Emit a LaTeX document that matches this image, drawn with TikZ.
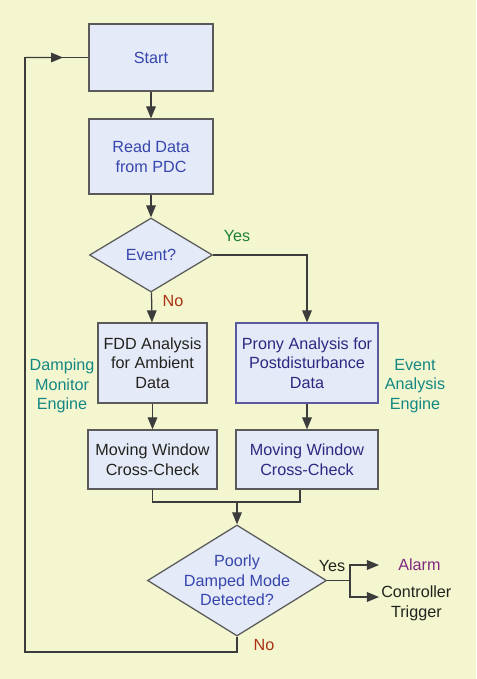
\documentclass[tikz,border=0pt]{standalone}
\usepackage{fontspec}
\setmainfont{Liberation Sans}
\usetikzlibrary{shapes.geometric, arrows.meta, positioning, calc}
\definecolor{mybg}{RGB}{243,246,207}
\definecolor{myfill}{RGB}{228,234,247}
\definecolor{myframe}{RGB}{90,90,90}
\definecolor{myline}{RGB}{60,60,60}
\definecolor{myblue}{RGB}{55,70,175}
\definecolor{mynavy}{RGB}{45,40,130}
\definecolor{mypframe}{RGB}{90,90,160}
\definecolor{myteal}{RGB}{20,135,130}
\definecolor{mygreen}{RGB}{30,130,50}
\definecolor{myred}{RGB}{170,50,20}
\definecolor{mypurple}{RGB}{130,40,130}
\definecolor{mydark}{RGB}{35,35,30}
\newcommand\myfont{\fontsize{11.5}{14}\selectfont}
\tikzset{
  block/.style={rectangle, draw=myframe, fill=myfill, align=center,
    line width=0.9pt, font=\myfont, inner sep=0pt},
  decision/.style={diamond, draw=myframe, fill=myfill,
    line width=0.9pt, inner sep=0pt},
  lbl/.style={align=center, font=\myfont, inner sep=0pt},
  arrow/.style={-{Triangle[length=3mm, width=2.4mm]}, line width=0.9pt, color=myline},
  line/.style={line width=0.9pt, color=myline}
}

\begin{document}
\begin{tikzpicture}[x=0.025cm, y=-0.025cm]
  % Background
  \fill[mybg] (0,0) rectangle (476,679);
  \useasboundingbox (0,0) rectangle (476,679);

  % Nodes
  \node[block, text=myblue, minimum width=3.1cm, minimum height=1.675cm] (start) at (151,57.5) {Start};
  \node[block, text=myblue, minimum width=3.1cm, minimum height=1.875cm] (read) at (151,156.5) {Read Data\\from PDC};
  \node[decision, minimum width=3.075cm, minimum height=1.85cm,
    label={[lbl, text=myblue]center:Event?}] (event) at (151,255) {};
  \node[block, text=mydark, minimum width=2.725cm, minimum height=2cm] (fdd) at (152.5,363) {FDD Analysis\\for Ambient\\Data};
  \node[block, draw=mypframe, text=mynavy, minimum width=3.55cm, minimum height=2cm] (prony) at (307,363) {Prony Analysis for\\Postdisturbance\\Data};
  \node[block, text=mydark, minimum width=3.225cm, minimum height=1.475cm] (mwl) at (152.5,459.5) {Moving Window\\Cross-Check};
  \node[block, text=mynavy, minimum width=3.55cm, minimum height=1.475cm] (mwr) at (307,459.5) {Moving Window\\Cross-Check};
  \node[decision, minimum width=4.475cm, minimum height=2.775cm,
    label={[lbl, text=myblue]center:Poorly\\Damped Mode\\Detected?}] (poor) at (237,580.5) {};

  % Labels
  \node[lbl, text=myteal] (dme) at (62,386) {Damping\\Monitor\\Engine};
  \node[lbl, text=myteal] (eae) at (415,386) {Event\\Analysis\\Engine};
  \node[lbl, text=mygreen] (yes1) at (237,236) {Yes};
  \node[lbl, text=myred] (no1) at (173,301) {No};
  \node[lbl, text=mydark] (yes2) at (332,566) {Yes};
  \node[lbl, text=myred] (no2) at (264,645) {No};
  \node[lbl, text=mypurple, anchor=west] (alarm) at (398,565) {Alarm};
  \node[lbl, text=mydark, anchor=west] (ctrl) at (381,603.5) {Controller\\Trigger};

  % Coordinates
  \coordinate (join) at (237,502);
  \coordinate (split) at (350,580.5);
  \coordinate (ala) at (379,565);
  \coordinate (cta) at (379,597);
  \coordinate (back) at (25,652);
  \coordinate (top) at (25,57.5);

  % Main flow
  \draw[arrow] (start) -- (read);
  \draw[arrow] (read) -- (event);
  \draw[arrow] (event) -- (fdd);
  \draw[arrow] (event.east) -| (prony.north);
  \draw[arrow] (fdd) -- (mwl);
  \draw[arrow] (prony) -- (mwr);

  % Merge
  \draw[line] (mwl.south) |- (join) -| ([xshift=-0.175cm]mwr.south);
  \draw[arrow] (join) -- (poor.north);

  % Outputs
  \draw[line] (poor.east) -- (split);
  \draw[arrow] (split) |- (ala);
  \draw[arrow] (split) |- (cta);

  % Loop back
  \draw[line] (poor.south) |- (back) -- (top) -- (start.west);
  \draw[arrow] (top) -- ($(top)!0.6!(start.west)$);
\end{tikzpicture}
\end{document}
